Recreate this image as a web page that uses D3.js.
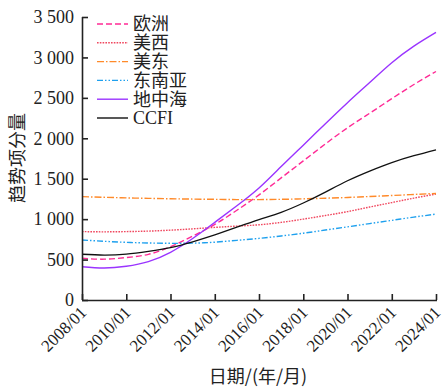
<!DOCTYPE html>
<html>
<head>
<meta charset="utf-8">
<script src="https://cdn.jsdelivr.net/npm/d3@7/dist/d3.min.js"></script>
<style>
  html, body { margin: 0; padding: 0; background: #fff; }
  svg { display: block; }
  text { font-family: "Liberation Serif", "Times New Roman", serif; fill: #222; }
  .cjk { font-family: "Noto Sans CJK SC", "Liberation Serif", serif; }
</style>
</head>
<body>
<svg id="chart" width="442" height="387"></svg>
<script>
// Yearly samples (January of each year) of the trend components
const years = [2008, 2009, 2010, 2011, 2012, 2013, 2014, 2015, 2016,
               2017, 2018, 2019, 2020, 2021, 2022, 2023, 2024];

const europe   = [516, 505, 525, 565, 660, 790, 935, 1110, 1300,
                  1510, 1720, 1930, 2130, 2310, 2490, 2665, 2826];
const usWest   = [846, 843, 846, 852, 864, 880, 898, 914, 930,
                  960, 1000, 1045, 1093, 1150, 1205, 1260, 1310];
const usEast   = [1278, 1270, 1263, 1257, 1252, 1248, 1245, 1242, 1242,
                  1245, 1251, 1259, 1268, 1280, 1292, 1305, 1318];
const seAsia   = [742, 726, 713, 705, 701, 703, 715, 738, 762,
                  792, 826, 865, 905, 945, 985, 1025, 1062];
const mediterr = [412, 396, 418, 475, 590, 760, 960, 1165, 1385,
                  1650, 1915, 2180, 2440, 2690, 2935, 3140, 3310];
const ccfi     = [566, 556, 568, 602, 648, 720, 805, 900, 995,
                  1085, 1200, 1335, 1475, 1595, 1700, 1785, 1858];

const seriesNames = ["欧洲", "美西", "美东", "东南亚", "地中海", "CCFI"];
const seriesData  = [europe, usWest, usEast, seAsia, mediterr, ccfi];
const seriesColors = ["#ff2a95", "#f0485f", "#ff8a2a", "#1ea0ee", "#9a34ff", "#111111"];
const seriesDash   = ["6,3", "1.6,1.2", "7,2,1.5,2", "6,2,1.5,2,1.5,2", null, null];

const yTicks = [0, 500, 1000, 1500, 2000, 2500, 3000, 3500];
const xTickYears = [2008, 2010, 2012, 2014, 2016, 2018, 2020, 2022, 2024];

const svg = d3.select("#chart");
const plotL = 82, plotR = 436, plotT = 17, plotB = 300;

const x = d3.scaleTime()
  .domain([new Date(2008, 0, 1), new Date(2024, 0, 1)])
  .range([plotL, plotR]);
const y = d3.scaleLinear().domain([0, 3500]).range([plotB, plotT]);

// thousands separated by a space: 3 500
const fmtY = v => {
  const s = String(v);
  return s.length > 3 ? s.slice(0, s.length - 3) + " " + s.slice(-3) : s;
};

// Lines
const line = d3.line()
  .x(d => x(new Date(d[0], 0, 1)))
  .y(d => y(d[1]))
  .curve(d3.curveNatural);

seriesData.forEach((vals, i) => {
  svg.append("path")
    .datum(years.map((yr, j) => [yr, vals[j]]))
    .attr("fill", "none")
    .attr("stroke", seriesColors[i])
    .attr("stroke-width", i === 5 ? 1.3 : 1.4)
    .attr("stroke-dasharray", seriesDash[i])
    .attr("d", line);
});

// Y axis (ticks pointing inward)
const yAxis = svg.append("g")
  .attr("transform", `translate(${plotL},0)`)
  .call(d3.axisRight(y).tickValues(yTicks).tickSize(6).tickFormat(""));
yAxis.select(".domain").attr("stroke", "#222").attr("stroke-width", 1.6)
  .attr("d", `M0.5,${plotB}V${plotT}`);
yAxis.selectAll(".tick line").attr("stroke", "#222").attr("stroke-width", 1.6);
yTicks.forEach(v => {
  svg.append("text")
    .attr("x", plotL - 8).attr("y", y(v))
    .attr("dy", "0.35em")
    .attr("text-anchor", "end")
    .attr("font-size", 18)
    .text(fmtY(v));
});

// X axis (ticks pointing inward, rotated labels)
const xAxis = svg.append("g")
  .attr("transform", `translate(0,${plotB})`)
  .call(d3.axisTop(x)
    .tickValues(xTickYears.map(yr => new Date(yr, 0, 1)))
    .tickSize(6)
    .tickFormat(""));
xAxis.select(".domain").attr("stroke", "#222").attr("stroke-width", 1.6)
  .attr("d", `M${plotL},0.5H${plotR + 1}`);
xAxis.selectAll(".tick line").attr("stroke", "#222").attr("stroke-width", 1.6);

const fmtX = d3.timeFormat("%Y/%m");
xTickYears.forEach(yr => {
  const px = x(new Date(yr, 0, 1));
  svg.append("text")
    .attr("transform", `translate(${px - 3},${plotB + 5}) rotate(-45)`)
    .attr("text-anchor", "end")
    .attr("dy", "0.7em")
    .attr("font-size", 17)
    .text(fmtX(new Date(yr, 0, 1)));
});

// Axis titles
svg.append("text")
  .attr("class", "cjk")
  .attr("x", 258).attr("y", 383)
  .attr("text-anchor", "middle")
  .attr("font-size", 18)
  .text("日期/(年/月)");

svg.append("text")
  .attr("class", "cjk")
  .attr("transform", `translate(24,158) rotate(-90)`)
  .attr("text-anchor", "middle")
  .attr("font-size", 18)
  .text("趋势项分量");

// Legend
const legend = svg.append("g").attr("transform", "translate(97,24)");
seriesNames.forEach((name, i) => {
  const g = legend.append("g").attr("transform", `translate(0,${i * 18.8})`);
  g.append("line")
    .attr("x1", 0).attr("x2", 31).attr("y1", 0).attr("y2", 0)
    .attr("stroke", seriesColors[i])
    .attr("stroke-width", 1.4)
    .attr("stroke-dasharray", seriesDash[i]);
  g.append("text")
    .attr("class", i === 5 ? null : "cjk")
    .attr("x", 36).attr("y", 0).attr("dy", "0.36em")
    .attr("font-size", 18)
    .text(name);
});
</script>
</body>
</html>
